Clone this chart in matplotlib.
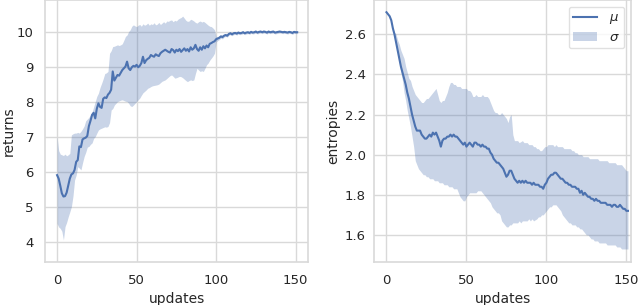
import numpy as np
import matplotlib
matplotlib.use("Agg")
import matplotlib.pyplot as plt

# one value per update, 0..151
updates = list(range(152))

returns_mean = [
    5.90, 5.80, 5.60, 5.38, 5.29, 5.30, 5.40, 5.60, 5.80, 5.92,
    5.95, 6.05, 6.28, 6.33, 6.72, 6.70, 6.92, 6.95, 6.97, 7.02,
    7.30, 7.45, 7.62, 7.68, 7.52, 7.80, 7.95, 7.85, 7.82, 8.08,
    8.12, 8.10, 8.20, 8.25, 8.34, 8.86, 8.60, 8.68, 8.76, 8.74,
    8.82, 8.90, 8.95, 9.00, 9.14, 8.95, 8.90, 8.98, 9.02, 9.00,
    9.05, 8.98, 9.02, 9.10, 9.28, 9.10, 9.18, 9.22, 9.25, 9.33,
    9.30, 9.28, 9.35, 9.32, 9.30, 9.38, 9.42, 9.45, 9.48, 9.45,
    9.42, 9.40, 9.50, 9.47, 9.40, 9.48, 9.44, 9.50, 9.42, 9.47,
    9.52, 9.45, 9.50, 9.43, 9.55, 9.48, 9.52, 9.62, 9.50, 9.45,
    9.55, 9.48, 9.58, 9.52, 9.60, 9.55, 9.65, 9.67, 9.70, 9.72,
    9.78, 9.80, 9.82, 9.86, 9.84, 9.88, 9.90, 9.88, 9.93, 9.95,
    9.92, 9.95, 9.96, 9.94, 9.97, 9.95, 9.96, 9.98, 9.95, 9.97,
    9.98, 9.96, 9.99, 9.97, 9.98, 10.00, 9.97, 9.99, 10.00, 9.98,
    10.00, 9.99, 9.97, 10.00, 9.98, 9.99, 10.00, 9.97, 9.98, 9.99,
    10.00, 9.99, 9.98, 9.99, 9.98, 9.97, 9.99, 9.98, 9.96, 9.99,
    9.98, 9.98,
]
returns_hi = [
    7.00, 6.60, 6.50, 6.48, 6.46, 6.50, 6.45, 6.48, 6.52, 7.05,
    7.08, 7.10, 7.10, 7.12, 7.10, 7.15, 7.22, 7.30, 7.45, 7.50,
    7.55, 7.62, 7.70, 7.85, 8.00, 8.15, 8.24, 8.40, 8.52, 8.65,
    8.80, 8.82, 8.86, 9.38, 9.45, 9.57, 9.58, 9.60, 9.62, 9.60,
    9.62, 9.65, 9.75, 9.86, 9.90, 10.00, 10.05, 10.15, 10.19, 10.16,
    10.14, 10.18, 10.20, 10.15, 10.22, 10.18, 10.20, 10.24, 10.18, 10.22,
    10.20, 10.25, 10.19, 10.21, 10.26, 10.20, 10.24, 10.28, 10.24, 10.30,
    10.29, 10.32, 10.33, 10.28, 10.32, 10.30, 10.35, 10.38, 10.40, 10.44,
    10.38, 10.32, 10.29, 10.30, 10.35, 10.33, 10.30, 10.26, 10.24, 10.28,
    10.30, 10.27, 10.29, 10.26, 10.22, 10.18, 10.15, 10.14, 10.10, 10.05,
    9.85, 9.86, 9.88, 9.91, 9.90, 9.93, 9.95, 9.93, 9.97, 9.99,
    9.96, 9.99, 10.00, 9.98, 10.01, 9.99, 10.00, 10.01, 9.98, 10.00,
    10.01, 9.99, 10.02, 10.00, 10.01, 10.03, 10.00, 10.02, 10.03, 10.01,
    10.03, 10.02, 10.00, 10.03, 10.01, 10.02, 10.03, 10.00, 10.01, 10.02,
    10.03, 10.02, 10.01, 10.02, 10.01, 10.00, 10.02, 10.01, 9.99, 10.02,
    10.01, 10.01,
]
returns_lo = [
    4.52, 4.42, 4.38, 4.30, 4.05, 4.43, 4.55, 4.71, 4.85, 5.00,
    5.30, 5.76, 5.90, 6.14, 6.10, 6.05, 6.25, 6.43, 6.55, 6.70,
    6.72, 6.78, 6.82, 6.95, 7.00, 7.10, 7.19, 7.22, 7.24, 7.26,
    7.28, 7.27, 7.29, 7.40, 7.76, 7.80, 7.90, 7.95, 8.00, 8.02,
    8.04, 8.05, 8.03, 8.01, 8.00, 7.95, 7.88, 7.86, 7.90, 7.95,
    8.00, 8.05, 8.10, 8.18, 8.25, 8.29, 8.33, 8.38, 8.40, 8.43,
    8.45, 8.46, 8.47, 8.48, 8.50, 8.54, 8.58, 8.60, 8.62, 8.66,
    8.70, 8.74, 8.76, 8.72, 8.67, 8.68, 8.70, 8.72, 8.71, 8.68,
    8.64, 8.60, 8.57, 8.60, 8.62, 8.60, 8.62, 8.80, 8.95, 8.90,
    8.86, 8.88, 8.86, 8.95, 9.05, 9.10, 9.18, 9.24, 9.30, 9.38,
    9.70, 9.74, 9.77, 9.81, 9.79, 9.84, 9.86, 9.84, 9.89, 9.91,
    9.88, 9.91, 9.92, 9.90, 9.93, 9.91, 9.92, 9.94, 9.91, 9.93,
    9.94, 9.92, 9.95, 9.93, 9.94, 9.96, 9.93, 9.95, 9.96, 9.94,
    9.96, 9.95, 9.93, 9.96, 9.94, 9.95, 9.96, 9.93, 9.94, 9.95,
    9.96, 9.95, 9.94, 9.95, 9.94, 9.93, 9.95, 9.94, 9.92, 9.95,
    9.94, 9.94,
]

entropies_mean = [
    2.71, 2.70, 2.69, 2.67, 2.63, 2.60, 2.56, 2.52, 2.48, 2.44,
    2.41, 2.38, 2.35, 2.31, 2.28, 2.24, 2.20, 2.17, 2.14, 2.12,
    2.12, 2.12, 2.10, 2.09, 2.08, 2.08, 2.09, 2.10, 2.09, 2.11,
    2.10, 2.11, 2.09, 2.07, 2.04, 2.07, 2.08, 2.08, 2.09, 2.09,
    2.10, 2.09, 2.10, 2.09, 2.09, 2.08, 2.07, 2.06, 2.05, 2.06,
    2.04, 2.05, 2.06, 2.05, 2.04, 2.06, 2.06, 2.05, 2.05, 2.04,
    2.05, 2.04, 2.04, 2.03, 2.03, 2.01, 2.00, 1.98, 1.97, 1.96,
    1.96, 1.95, 1.94, 1.93, 1.91, 1.89, 1.90, 1.92, 1.92, 1.90,
    1.88, 1.87, 1.86, 1.87, 1.86, 1.87, 1.86, 1.87, 1.86, 1.86,
    1.86, 1.85, 1.86, 1.85, 1.85, 1.85, 1.84, 1.84, 1.83, 1.85,
    1.86, 1.88, 1.89, 1.90, 1.90, 1.91, 1.91, 1.90, 1.89, 1.88,
    1.88, 1.87, 1.86, 1.86, 1.85, 1.85, 1.84, 1.84, 1.84, 1.83,
    1.83, 1.81, 1.82, 1.80, 1.81, 1.80, 1.79, 1.79, 1.78, 1.78,
    1.77, 1.78, 1.77, 1.77, 1.76, 1.76, 1.76, 1.76, 1.75, 1.75,
    1.75, 1.74, 1.75, 1.75, 1.74, 1.74, 1.75, 1.74, 1.73, 1.73,
    1.72, 1.72,
]
entropies_hi = [
    2.71, 2.70, 2.69, 2.67, 2.63, 2.61, 2.60, 2.57, 2.55, 2.52,
    2.50, 2.48, 2.44, 2.41, 2.38, 2.37, 2.34, 2.32, 2.30, 2.29,
    2.28, 2.27, 2.26, 2.26, 2.27, 2.28, 2.28, 2.29, 2.30, 2.31,
    2.32, 2.33, 2.30, 2.27, 2.26, 2.27, 2.27, 2.29, 2.31, 2.34,
    2.36, 2.36, 2.35, 2.35, 2.34, 2.34, 2.34, 2.33, 2.33, 2.33,
    2.33, 2.32, 2.32, 2.31, 2.29, 2.29, 2.30, 2.29, 2.29, 2.29,
    2.30, 2.29, 2.29, 2.29, 2.28, 2.26, 2.24, 2.22, 2.21, 2.21,
    2.20, 2.20, 2.21, 2.20, 2.19, 2.18, 2.16, 2.19, 2.20, 2.10,
    2.07, 2.07, 2.07, 2.06, 2.065, 2.07, 2.06, 2.06, 2.06, 2.05,
    2.05, 2.05, 2.04, 2.04, 2.03, 2.03, 2.02, 2.02, 2.03, 2.04,
    2.04, 2.05, 2.05, 2.05, 2.05, 2.04, 2.05, 2.04, 2.04, 2.04,
    2.04, 2.03, 2.03, 2.03, 2.03, 2.03, 2.02, 2.02, 2.01, 2.01,
    2.00, 2.00, 2.00, 1.99, 1.99, 1.99, 1.99, 1.98, 1.98, 1.98,
    1.98, 1.98, 1.98, 1.97, 1.97, 1.97, 1.97, 1.97, 1.97, 1.96,
    1.96, 1.96, 1.96, 1.96, 1.95, 1.95, 1.95, 1.95, 1.94, 1.93,
    1.92, 1.92,
]
entropies_lo = [
    2.71, 2.70, 2.68, 2.66, 2.62, 2.58, 2.55, 2.51, 2.46, 2.41,
    2.37, 2.31, 2.27, 2.22, 2.18, 2.14, 2.09, 2.04, 1.97, 1.95,
    1.93, 1.92, 1.91, 1.90, 1.90, 1.89, 1.89, 1.88, 1.88, 1.88,
    1.87, 1.87, 1.87, 1.86, 1.86, 1.86, 1.85, 1.85, 1.85, 1.84,
    1.84, 1.84, 1.83, 1.83, 1.83, 1.81, 1.79, 1.78, 1.77, 1.77,
    1.79, 1.80, 1.81, 1.81, 1.81, 1.81, 1.81, 1.82, 1.82, 1.82,
    1.81, 1.80, 1.79, 1.78, 1.77, 1.76, 1.74, 1.73, 1.72, 1.71,
    1.71, 1.70, 1.67, 1.66, 1.65, 1.64, 1.64, 1.65, 1.65, 1.66,
    1.66, 1.66, 1.66, 1.67, 1.66, 1.67, 1.67, 1.67, 1.67, 1.68,
    1.67, 1.68, 1.67, 1.675, 1.68, 1.69, 1.69, 1.70, 1.70, 1.71,
    1.72, 1.73, 1.74, 1.74, 1.75, 1.75, 1.75, 1.74, 1.73, 1.72,
    1.70, 1.69, 1.68, 1.67, 1.66, 1.66, 1.65, 1.65, 1.65, 1.64,
    1.64, 1.63, 1.63, 1.62, 1.61, 1.60, 1.60, 1.59, 1.58, 1.58,
    1.57, 1.57, 1.57, 1.56, 1.56, 1.56, 1.56, 1.56, 1.55, 1.55,
    1.55, 1.55, 1.55, 1.55, 1.54, 1.54, 1.54, 1.53, 1.53, 1.53,
    1.53, 1.53,
]

returns_yticks = [4, 5, 6, 7, 8, 9, 10]
entropies_yticks = [1.6, 1.8, 2.0, 2.2, 2.4, 2.6]
xticks = [0, 50, 100, 150]

BLUE = "#4C72B0"
GRID = "#d9d9d9"
TEXT = "#262626"

plt.rcParams.update({
    "font.family": "DejaVu Sans",
    "font.size": 9,
    "text.color": TEXT,
    "axes.labelcolor": TEXT,
    "xtick.color": TEXT,
    "ytick.color": TEXT,
    "axes.edgecolor": GRID,
    "axes.linewidth": 1.2,
    "grid.color": GRID,
    "grid.linewidth": 1.0,
})

fig = plt.figure(figsize=(6.4, 3.05), dpi=100)
ax1 = fig.add_axes([45 / 640, 43 / 305, 263 / 640, 262 / 305])
ax2 = fig.add_axes([374 / 640, 43 / 305, 257 / 640, 262 / 305])


def draw_panel(ax, mean, lo, hi, ylabel, yticks, ylim, xlim, ypad,
               ylabelpad, legend=False):
    ax.fill_between(updates, lo, hi, color=BLUE, alpha=0.3, linewidth=0,
                    label=r"$\sigma$")
    ax.plot(updates, mean, color=BLUE, linewidth=1.5, label=r"$\mu$")
    ax.set_xlim(*xlim)
    ax.set_ylim(*ylim)
    ax.set_xticks(xticks)
    ax.set_yticks(yticks)
    ax.grid(True)
    ax.set_axisbelow(True)
    ax.tick_params(axis="both", length=0, labelsize=9.5)
    ax.tick_params(axis="x", pad=9)
    ax.tick_params(axis="y", pad=ypad)
    ax.set_xlabel("updates", fontsize=10, labelpad=3)
    ax.set_ylabel(ylabel, fontsize=10, labelpad=ylabelpad)
    if legend:
        handles, labels = ax.get_legend_handles_labels()
        ax.legend(handles[::-1], labels[::-1], loc="upper right",
                  fontsize=9.5, frameon=True, edgecolor=GRID,
                  borderaxespad=0.5, borderpad=0.35, labelspacing=0.35,
                  handlelength=1.8, handletextpad=0.9)


draw_panel(ax1, returns_mean, returns_lo, returns_hi, "returns",
           returns_yticks, (3.42, 10.9), (-7.6, 157.8), 8, 1.0)
ax1.set_yticklabels([str(v) for v in returns_yticks])
draw_panel(ax2, entropies_mean, entropies_lo, entropies_hi, "entropies",
           entropies_yticks, (1.465, 2.771), (-7.8, 152.9), 6, 3.0,
           legend=True)

fig.savefig("out.png", dpi=100)
